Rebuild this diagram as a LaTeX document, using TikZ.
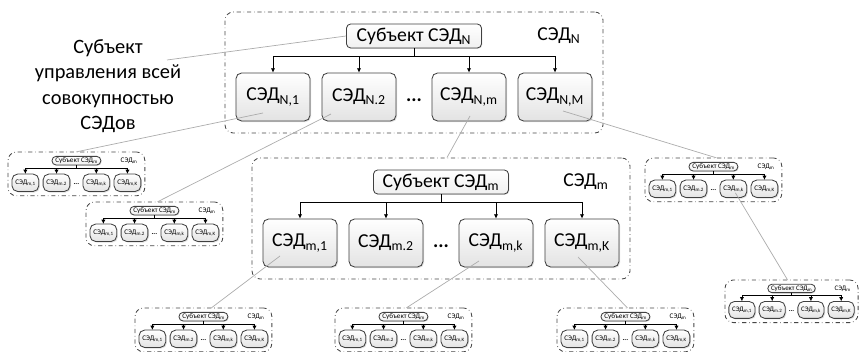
\documentclass[tikz,border=0pt]{standalone}
\usepackage{fontspec}
\setmainfont{Carlito}
\usetikzlibrary{arrows.meta,shadows}

\tikzset{
  sedframe/.style={draw=gray!55!black, dash dot, rounded corners=6pt, line width=.6pt,
    minimum width=9.45cm, minimum height=3.025cm, inner sep=0pt},
  sedhead/.style={draw=black!75, rounded corners=3pt, line width=.6pt,
    top color=white, bottom color=gray!12, minimum width=3.375cm, minimum height=.6cm, inner sep=1pt,
    drop shadow={shadow xshift=.6pt, shadow yshift=-.6pt, opacity=.25}},
  sednode/.style={draw=black!75, rounded corners=4pt, line width=.6pt,
    top color=white, bottom color=gray!22, minimum width=1.85cm, minimum height=1.2cm, inner sep=1pt,
    drop shadow={shadow xshift=.8pt, shadow yshift=-.8pt, opacity=.25}},
  link/.style={draw=gray!65, line width=.5pt},
  pics/sedblock/.style n args={5}{code={
    \node[sedframe] (-box) at (189,60.5) {};
    \node[sedhead] (-p) at (189,24) {Субъект СЭД\textsubscript{#1}};
    \node (-lbl) at (334,24) {СЭД\textsubscript{#1}};
    \node[sednode] (-c1) at (48,85) {СЭД\textsubscript{#2}};
    \node[sednode] (-c2) at (134,85) {СЭД\textsubscript{#3}};
    \node[sednode] (-c3) at (244,85) {СЭД\textsubscript{#4}};
    \node[sednode] (-c4) at (330,85) {СЭД\textsubscript{#5}};
    \node (-dots) at (189,88) {\textbf{...}};
    \coordinate (-bus) at (189,44);
    \draw[line width=.5pt] (-p) -- (-bus);
    \foreach \k in {1,...,4}
      \draw[line width=.5pt,-{Latex[length=3pt,width=3pt]}] (-bus) -| (-c\k);
  }}
}

\begin{document}
\begin{tikzpicture}[x=0.025cm,y=-0.025cm,font=\fontsize{14}{17}\selectfont]
\useasboundingbox (0,0) rectangle (860,352);

% main system
\pic (N) at (225,12) {sedblock={N}{N,1}{N.2}{N,m}{N,M}};
\pic (m) at (252,158) {sedblock={m}{m,1}{m.2}{m,k}{m,K}};

% small copies
\pic[scale=.362,transform shape] (s1) at (8,152) {sedblock={m}{m,1}{m.2}{m,k}{m,K}};
\pic[scale=.362,transform shape] (s2) at (86,202) {sedblock={m}{m,1}{m.2}{m,k}{m,K}};
\pic[scale=.362,transform shape] (s3) at (645,158) {sedblock={m}{m,1}{m.2}{m,k}{m,K}};
\pic[scale=.352,transform shape] (s4) at (725,280) {sedblock={m}{m,1}{m.2}{m,k}{m,K}};
\pic[scale=.362,transform shape] (s5) at (135,308) {sedblock={m}{m,1}{m.2}{m,k}{m,K}};
\pic[scale=.362,transform shape] (s6) at (335,308) {sedblock={m}{m,1}{m.2}{m,k}{m,K}};
\pic[scale=.362,transform shape] (s7) at (557,308) {sedblock={m}{m,1}{m.2}{m,k}{m,K}};

% label
\node[align=center,font=\fontsize{14.5}{18}\selectfont] (lbl) at (108,86)
  {Субъект\\управления всей\\совокупностью\\СЭДов};
\coordinate (lblpt) at (167,60);
\draw[link] (lblpt) -- (N-p.west);

% links
\draw[link] ([shift={(-10,16)}]N-c1.center) -- (s1-box.north);
\draw[link] ([shift={(-28,17)}]N-c2.center) -- ([shift={(3,0)}]s2-box.north);
\draw[link] ([shift={(1,19)}]N-c3.center) -- ([shift={(6,0)}]m-box.north);
\draw[link] ([shift={(8,14)}]N-c4.center) -- ([shift={(3,0)}]s3-box.north);
\draw[link] ([shift={(2,4)}]s3-c3.center) -- ([shift={(-4,0)}]s4-box.north);
\draw[link] ([shift={(-20,13)}]m-c1.center) -- ([shift={(8,0)}]s5-box.north);
\draw[link] ([shift={(-17,18)}]m-c3.center) -- ([shift={(3,0)}]s6-box.north);
\draw[link] ([shift={(-4,14)}]m-c4.center) -- ([shift={(2,0)}]s7-box.north);

\end{tikzpicture}
\end{document}
